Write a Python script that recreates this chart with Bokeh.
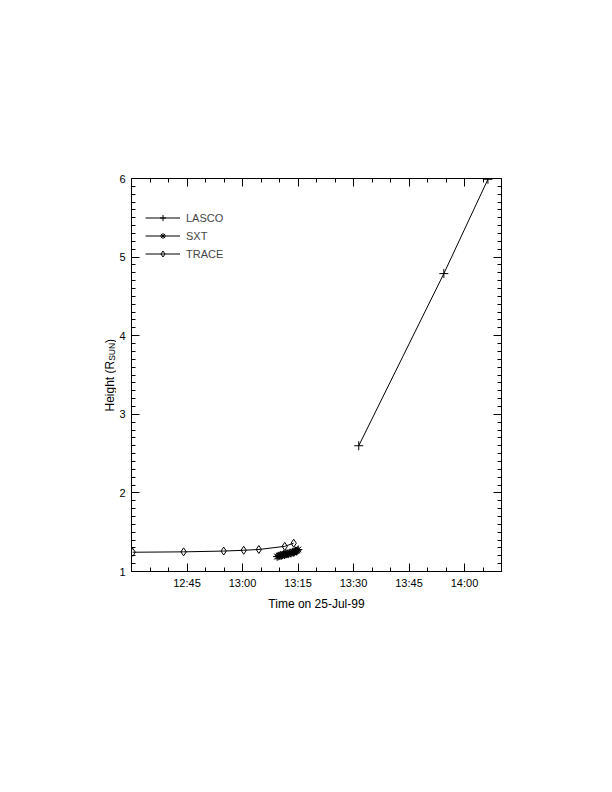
import pandas as pd
from math import pi
from bokeh.plotting import figure
from bokeh.layouts import row
from bokeh.models import (FixedTicker, DatetimeTickFormatter, DatetimeAxis, LinearAxis,
                          Label, Range1d, Legend, LegendItem, CustomLabelingPolicy)
from bokeh.embed import file_html
from bokeh.resources import INLINE

DATE = "1999-07-25"

lasco_time = ["13:31:25", "13:54:25", "14:06:20"]
lasco_height = [2.60, 4.79, 5.99]

sxt_time = ["13:09:20", "13:09:35", "13:09:50", "13:10:05", "13:10:20", "13:10:35",
            "13:10:50", "13:11:05", "13:11:20", "13:11:35", "13:11:50", "13:12:05",
            "13:12:20", "13:12:35", "13:12:50", "13:13:05", "13:13:20", "13:13:35",
            "13:13:50", "13:14:05", "13:14:20", "13:14:35", "13:14:50", "13:15:05"]
sxt_height = [1.19, 1.19, 1.20, 1.20, 1.21, 1.20, 1.21, 1.22, 1.21, 1.22, 1.22, 1.23,
              1.22, 1.23, 1.24, 1.23, 1.24, 1.25, 1.24, 1.25, 1.26, 1.26, 1.27, 1.28]

trace_time = ["12:30:20", "12:44:05", "12:54:55", "13:00:20", "13:04:25", "13:11:25", "13:13:50"]
trace_height = [1.245, 1.25, 1.26, 1.27, 1.28, 1.32, 1.36]

x_tick_labels = ["12:45", "13:00", "13:15", "13:30", "13:45", "14:00"]
x_start, x_end = "12:30:00", "14:10:00"
y_ticks = [1, 2, 3, 4, 5, 6]


def t(lst):
    return pd.to_datetime([f"{DATE} {s}" for s in lst])


def ms(ts):
    return [float(v.value) / 1e6 for v in ts]


FONT = "Liberation Sans"
FS = "11px"
TITLE_FS = "12px"
LEFT_W = 116
TOP, FH, BOT = 178, 393, 190

x0, x1 = t([x_start, x_end])
p = figure(frame_width=370, frame_height=FH, x_axis_type="datetime",
           x_range=Range1d(x0, x1), y_range=Range1d(1, 6),
           min_border_left=131 - LEFT_W, min_border_top=TOP, min_border_right=60,
           min_border_bottom=BOT, output_backend="svg", toolbar_location=None)
p.xgrid.visible = False
p.ygrid.visible = False
p.outline_line_color = None
p.background_fill_color = "white"
p.border_fill_color = "white"

major_x = ms(t([s + ":00" for s in x_tick_labels]))
minor_x = ms(pd.date_range(x0, x1, freq="5min"))
xticker = FixedTicker(ticks=major_x, minor_ticks=minor_x)
minor_y = [1 + i * 0.1 for i in range(51)]
yticker = FixedTicker(ticks=y_ticks, minor_ticks=minor_y)
fmt = DatetimeTickFormatter(microseconds="%H:%M", milliseconds="%H:%M", seconds="%H:%M",
                            minsec="%H:%M", minutes="%H:%M", hourmin="%H:%M",
                            hours="%H:%M", days="%H:%M", months="%H:%M", years="%H:%M")


def style(ax):
    ax.axis_line_color = "black"
    ax.axis_line_width = 1
    ax.major_tick_line_color = "black"
    ax.minor_tick_line_color = "black"
    ax.major_tick_in = 8
    ax.major_tick_out = 0
    ax.minor_tick_in = 4
    ax.minor_tick_out = 0
    ax.major_label_text_font = FONT
    ax.major_label_text_font_size = FS
    ax.major_label_text_color = "black"
    ax.axis_label_text_font = FONT
    ax.axis_label_text_font_size = TITLE_FS
    ax.axis_label_text_font_style = "normal"
    ax.axis_label_text_color = "black"


def hide_labels(ax):
    ax.major_label_policy = CustomLabelingPolicy(
        code="for (const i of indices) { indices.unset(i) } return indices")


xa = p.xaxis[0]
xa.ticker = xticker
xa.formatter = fmt
xa.axis_label = "Time on 25-Jul-99"
style(xa)
xa.major_label_standoff = 5
xa.axis_label_standoff = 5

ya = p.yaxis[0]
ya.ticker = yticker
style(ya)
ya.major_label_standoff = 6

top = DatetimeAxis(ticker=xticker, formatter=fmt)
style(top)
hide_labels(top)
p.add_layout(top, "above")
right = LinearAxis(ticker=yticker)
style(right)
hide_labels(right)
p.add_layout(right, "right")

# data
l1 = p.line(t(lasco_time), lasco_height, line_color="black", line_width=1)
s1 = p.scatter(t(lasco_time), lasco_height, marker="cross", size=9,
               line_color="black", line_width=1)
l2 = p.line(t(sxt_time), sxt_height, line_color="black", line_width=1)
s2 = p.scatter(t(sxt_time), sxt_height, marker="asterisk", size=8,
               line_color="black", line_width=1)
l3 = p.line(t(trace_time), trace_height, line_color="black", line_width=1)
s3 = p.scatter(t(trace_time), trace_height, marker="diamond", size=8,
               line_color="black", fill_color=None, line_width=1)

legend = Legend(items=[LegendItem(label="LASCO", renderers=[l1, s1]),
                       LegendItem(label="SXT", renderers=[l2, s2]),
                       LegendItem(label="TRACE", renderers=[l3, s3])],
                location=(14, 310), border_line_color=None, background_fill_alpha=0,
                label_text_font=FONT, label_text_font_size=FS,
                glyph_width=35, glyph_height=15, label_height=15, spacing=3,
                padding=0, margin=0, label_standoff=6)
p.add_layout(legend)

# y-axis title with subscript, in a narrow left-hand panel whose frame lines up
# with the main plot frame
lf = figure(frame_width=LEFT_W, frame_height=FH, min_border_left=0, min_border_right=0,
            min_border_top=TOP, min_border_bottom=BOT,
            x_range=Range1d(0, LEFT_W), y_range=Range1d(0, FH),
            output_backend="svg", toolbar_location=None, title=None)
lf.axis.visible = False
lf.grid.visible = False
lf.outline_line_color = None
lf.border_fill_color = "white"
lf.background_fill_color = "white"
base = 160
for txt, dy, dx, size in [("Height (R", 0, 0, TITLE_FS), ("SUN", 50.7, 2, "8.5px"),
                          (")", 68.6, 0, TITLE_FS)]:
    lf.add_layout(Label(x=109 + dx, y=base + dy, x_units="screen", y_units="screen",
                        text=txt, angle=pi / 2, text_align="left", text_baseline="middle",
                        text_font=FONT, text_font_size=size, text_color="black"))

layout = row(lf, p)
open("out.html", "w").write(file_html(layout, INLINE))
